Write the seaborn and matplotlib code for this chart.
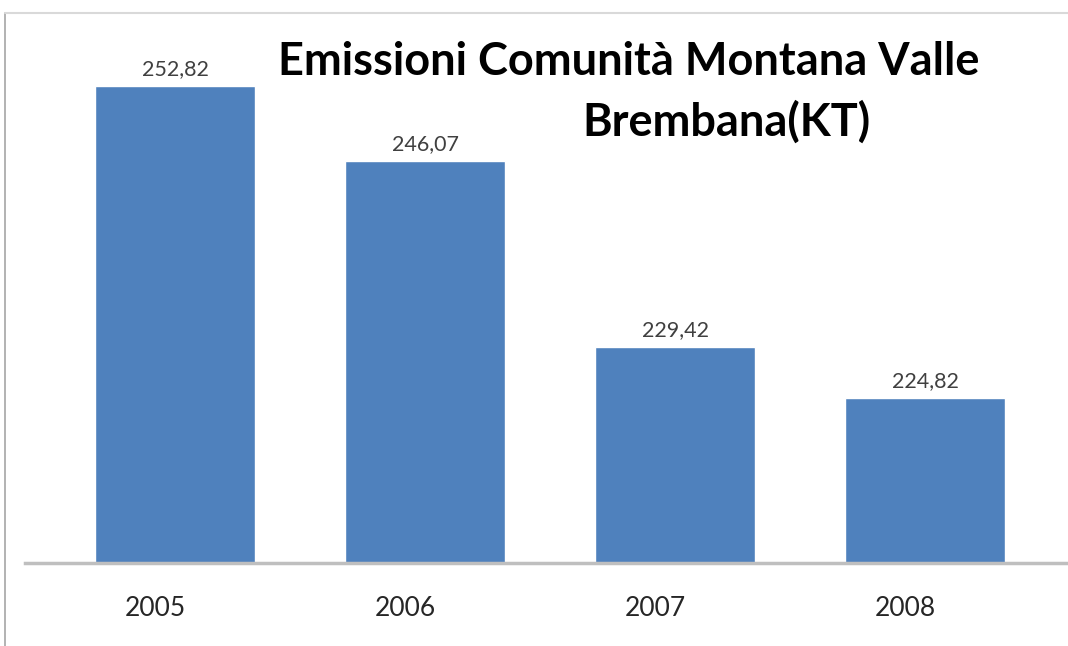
import numpy as np
import matplotlib.pyplot as plt
import matplotlib.transforms as mtransforms
import seaborn as sns
from matplotlib.lines import Line2D

years = ["2005", "2006", "2007", "2008"]
emissions = [252.82, 246.07, 229.42, 224.82]
title_lines = ["Emissioni Comunità Montana Valle", "Brembana(KT)"]

sns.set_style("white")
plt.rcParams["font.family"] = ["Lato", "DejaVu Sans"]

fig = plt.figure(figsize=(10.68, 6.46), dpi=100)
ax = fig.add_axes([25 / 1068, 1 - 563 / 646, 1 - 25 / 1068, 535 / 646])

sns.barplot(x=years, y=emissions, color="#4F81BD", saturation=1, width=0.64, ax=ax)

ax.set_ylim(210, 258)
ax.set_xlim(-0.6, 3.57)
labels = [f"{v:.2f}".replace(".", ",") for v in emissions]
ax.bar_label(ax.containers[0], labels=labels, padding=5, fontsize=15.5, color="#404040")

ax.set_yticks([])
ax.tick_params(axis="x", length=0, pad=24, labelsize=19, labelcolor="#262626")
ax.set_xlabel("")
ax.set_ylabel("")
for s in ["top", "right", "left"]:
    ax.spines[s].set_visible(False)
ax.spines["bottom"].set_color("#BFBFBF")
ax.spines["bottom"].set_linewidth(2.5)

# year labels sit a little left of the bar centres in the original
shift = mtransforms.ScaledTranslation(-20 / 100, 0, fig.dpi_scale_trans)
for lab in ax.get_xticklabels():
    lab.set_transform(lab.get_transform() + shift)

# chart frame
fig.add_artist(Line2D([5 / 1068, 5 / 1068], [0, 1 - 13 / 646], color="#A6A6A6", lw=1.2))
fig.add_artist(Line2D([5 / 1068, 1], [1 - 13 / 646, 1 - 13 / 646], color="#D9D9D9", lw=1.5))

fig.text(629 / 1068, 1 - 62 / 646, title_lines[0], ha="center", va="center",
         fontsize=32.5, fontweight="bold", color="black")
fig.text(726 / 1068, 1 - 122 / 646, title_lines[1], ha="center", va="center",
         fontsize=32.5, fontweight="bold", color="black")

fig.savefig("out.png", dpi=100)
